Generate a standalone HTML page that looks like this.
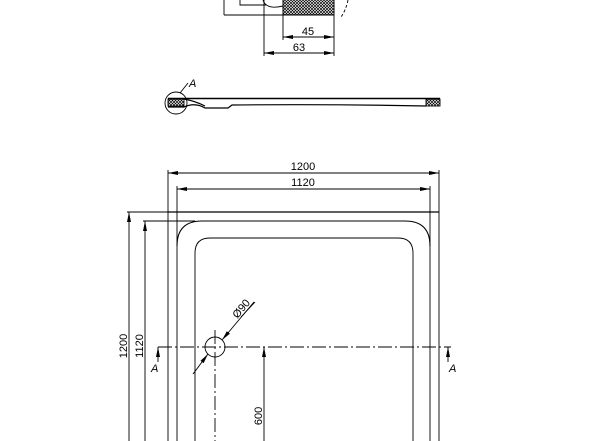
<!DOCTYPE html>
<html><head><meta charset="utf-8"><style>body{margin:0;background:#fff}svg{display:block}text{font-family:"Liberation Sans",sans-serif;font-size:11px;fill:#000}</style></head>
<body><svg width="600" height="441" viewBox="0 0 600 441" xmlns="http://www.w3.org/2000/svg">
<defs>
<pattern id="h" width="3" height="3" patternUnits="userSpaceOnUse"><path d="M0 0L3 3M3 0L0 3" stroke="#000" stroke-width="0.7"/></pattern>
<marker id="a" viewBox="0 0 10 4" refX="10" refY="2" markerWidth="10" markerHeight="4" orient="auto-start-reverse" markerUnits="userSpaceOnUse"><path d="M0 0L10 2L0 4z" fill="#000"/></marker>
</defs>
<g stroke="#000" fill="none" stroke-width="0.9">
<rect x="283" y="-2" width="51" height="17" fill="url(#h)" stroke-width="1"/>
<line x1="224" y1="0" x2="224" y2="15"/>
<line x1="224" y1="15" x2="283" y2="15"/>
<path d="M240 0V5H266M263 0Q266 10 283 6"/>
<line x1="264" y1="0" x2="264" y2="56"/>
<line x1="334" y1="15" x2="334" y2="56"/>
<path d="M348 0Q346 10 341 17" stroke-dasharray="3 2"/>
<line x1="283" y1="15" x2="283" y2="40"/>
<line x1="283" y1="37" x2="334" y2="37" marker-start="url(#a)" marker-end="url(#a)"/>
<line x1="264" y1="53" x2="334" y2="53" marker-start="url(#a)" marker-end="url(#a)"/>
<rect x="168" y="99" width="16" height="7" fill="url(#h)"/>
<rect x="426" y="99" width="14" height="7" fill="url(#h)"/>
<path d="M168 98.5H440" stroke-width="1.6"/>
<path d="M168 107H184Q195 102 205 108H228L232 105Q330 104 426 106M184 99Q195 101 205 106" stroke-width="1.2"/>
<circle cx="176" cy="103" r="11"/>
<line x1="180" y1="93" x2="188" y2="83"/>
<line x1="168" y1="170" x2="168" y2="441"/>
<line x1="439" y1="170" x2="439" y2="441"/>
<line x1="177" y1="186" x2="177" y2="441"/>
<line x1="430" y1="186" x2="430" y2="441"/>
<line x1="168" y1="173" x2="439" y2="173" marker-start="url(#a)" marker-end="url(#a)"/>
<line x1="177" y1="189" x2="430" y2="189" marker-start="url(#a)" marker-end="url(#a)"/>
<path d="M168 212H439" stroke-width="1.3"/>
<path d="M177 246Q177 221 202 221H405Q430 221 430 246" stroke-width="1.1"/>
<path d="M195 441V253Q195 238 210 238H398Q413 238 413 253V441" stroke-width="0.9"/>
<line x1="127" y1="212" x2="168" y2="212"/>
<line x1="143" y1="221" x2="195" y2="221"/>
<line x1="129" y1="441" x2="129" y2="212" marker-end="url(#a)"/>
<line x1="145" y1="441" x2="145" y2="221" marker-end="url(#a)"/>
<line x1="158" y1="347" x2="451" y2="347" stroke-dasharray="14 3 2 3"/>
<line x1="215" y1="330" x2="215" y2="441" stroke-dasharray="14 3 2 3"/>
<circle cx="215" cy="347" r="10"/>
<line x1="264" y1="441" x2="264" y2="347" marker-end="url(#a)"/>
<line x1="193" y1="374" x2="208" y2="354" marker-end="url(#a)"/>
<line x1="254" y1="302" x2="222" y2="340" marker-end="url(#a)"/>
<line x1="241" y1="317" x2="255" y2="302"/>
<line x1="158" y1="362" x2="158" y2="347" marker-end="url(#a)"/>
<line x1="448" y1="362" x2="448" y2="347" marker-end="url(#a)"/>
</g>
<text x="308" y="35" text-anchor="middle">45</text>
<text x="299" y="51" text-anchor="middle">63</text>
<text x="189" y="87" font-style="italic">A</text>
<text x="303" y="170" text-anchor="middle">1200</text>
<text x="303" y="186" text-anchor="middle">1120</text>
<text transform="translate(127,346) rotate(-90)" text-anchor="middle">1200</text>
<text transform="translate(143,346) rotate(-90)" text-anchor="middle">1120</text>
<text transform="translate(262,416) rotate(-90)" text-anchor="middle">600</text>
<text transform="translate(244,311) rotate(-50)" text-anchor="middle">Ø90</text>
<text x="151" y="372" font-style="italic">A</text>
<text x="449" y="372" font-style="italic">A</text>
</svg></body></html>
